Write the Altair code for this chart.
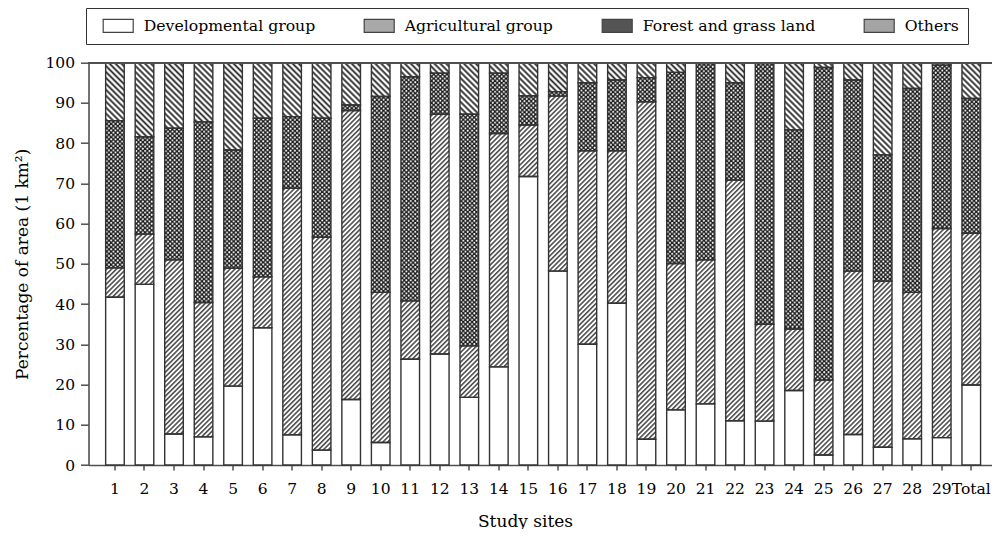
import base64
import altair as alt
import pandas as pd

# ---------------- data (percentages) ----------------
sites = [str(i) for i in range(1, 30)] + ["Total"]
categories = ["Developmental group", "Agricultural group", "Forest and grass land", "Others"]

developmental = [41.7, 44.9, 7.7, 7.0, 19.6, 34.1, 7.5, 3.7, 16.3, 5.6,
                 26.3, 27.6, 16.8, 24.4, 71.7, 48.2, 30.0, 40.2, 6.4, 13.7,
                 15.2, 11.0, 10.9, 18.5, 2.5, 7.6, 4.4, 6.5, 6.8, 19.9]
agricultural = [7.3, 12.5, 43.3, 33.4, 29.3, 12.7, 61.3, 52.9, 71.8, 37.3,
                14.5, 59.6, 12.8, 58.0, 12.8, 43.5, 48.1, 37.9, 83.9, 36.4,
                35.8, 59.8, 24.1, 15.3, 18.6, 40.6, 41.3, 36.4, 52.0, 37.7]
forest = [36.6, 24.2, 32.7, 44.9, 29.4, 39.4, 17.8, 29.6, 1.4, 48.7,
          55.7, 10.2, 57.6, 15.0, 7.3, 1.1, 16.9, 17.6, 6.0, 47.5,
          48.8, 24.2, 64.8, 49.5, 77.7, 47.5, 31.4, 50.7, 40.6, 33.5]
others = [14.4, 18.4, 16.3, 14.7, 21.7, 13.8, 13.4, 13.8, 10.5, 8.4,
          3.5, 2.6, 12.8, 2.6, 8.2, 7.2, 5.0, 4.3, 3.7, 2.4,
          0.2, 5.0, 0.2, 16.7, 1.2, 4.3, 22.9, 6.4, 0.6, 8.9]
y_ticks = list(range(0, 101, 10))

# ---------------- build stacked table ----------------
series = [developmental, agricultural, forest, others]
rows = []
for i, s in enumerate(sites):
    base = 0.0
    for cat, vals in zip(categories, series):
        rows.append({"site": s, "category": cat, "start": base, "end": base + vals[i]})
        base += vals[i]
df = pd.DataFrame(rows)

# ---------------- hatch patterns as tiled SVG images ----------------
def svg_uri(defs):
    svg = ('<svg xmlns="http://www.w3.org/2000/svg" width="100%" height="100%">'
           '<defs>' + defs + '</defs>'
           '<rect x="0" y="0" width="100%" height="100%" fill="url(#p)"/></svg>')
    return "data:image/svg+xml;base64," + base64.b64encode(svg.encode()).decode()

agri_uri = svg_uri(
    '<pattern id="p" width="3.4" height="3.4" patternUnits="userSpaceOnUse" patternTransform="rotate(45)">'
    '<rect width="3.4" height="3.4" fill="white"/>'
    '<rect x="1" y="0" width="1.3" height="3.4" fill="#262626"/></pattern>')
others_uri = svg_uri(
    '<pattern id="p" width="4.2" height="4.2" patternUnits="userSpaceOnUse" patternTransform="rotate(-45)">'
    '<rect width="4.2" height="4.2" fill="white"/>'
    '<rect x="1.2" y="0" width="1.8" height="4.2" fill="#262626"/></pattern>')
forest_uri = svg_uri(
    '<pattern id="p" width="4.4" height="4.4" patternUnits="userSpaceOnUse">'
    '<rect width="4.4" height="4.4" fill="#1a1a1a"/>'
    '<circle cx="1.1" cy="1.1" r="1.0" fill="white"/>'
    '<circle cx="3.3" cy="3.3" r="1.0" fill="white"/></pattern>')
pattern_of = {"Agricultural group": agri_uri,
              "Forest and grass land": forest_uri,
              "Others": others_uri}

FONT = "DejaVu Serif"
AX = "#505050"

x_enc = alt.X(
    "site:N",
    scale=alt.Scale(type="band", domain=sites, paddingInner=0.37, paddingOuter=0.484, align=0.6),
    axis=alt.Axis(title="Study sites", labelAngle=0, tickSize=5, labelPadding=11,
                  domainColor=AX, domainWidth=1.6, tickColor=AX, tickWidth=1.5,
                  labelFont=FONT, labelFontSize=15.5, labelColor="black",
                  titleFont=FONT, titleFontSize=17, titleFontWeight="normal", titleColor="black",
                  titleX=436.5, titleY=61, titleBaseline="alphabetic", grid=False),
)
y_enc = alt.Y(
    "start:Q",
    scale=alt.Scale(domain=[0, 100], nice=False),
    axis=alt.Axis(title="Percentage of area (1 km²)", values=y_ticks, tickSize=8, labelPadding=6,
                  domainColor=AX, domainWidth=1.6, tickColor=AX, tickWidth=1.5,
                  labelFont=FONT, labelFontSize=15.5, labelColor="black",
                  titleFont=FONT, titleFontSize=17, titleFontWeight="normal", titleColor="black",
                  titleX=-66.5, titleBaseline="middle", grid=False),
)
y2_enc = alt.Y2("end:Q")

# 30x13 px rectangle for a symbol of size 237 (sqrt = 15.4, scale 7.7)
legend_symbol = "M-1.95,-0.845H1.95V0.845H-1.95Z"

base = alt.Chart(df).mark_bar().encode(
    x=x_enc, y=y_enc, y2=y2_enc,
    fill=alt.Fill(
        "category:N",
        scale=alt.Scale(domain=categories, range=["#ffffff", "#a9a9a9", "#545454", "#a4a4a4"]),
        legend=alt.Legend(title=" ", titleOrient="left", titleFontSize=1, titlePadding=7.4,
                          orient="none", legendX=-2.5, legendY=-54.7,
                          direction="horizontal", columns=4, gridAlign="each",
                          symbolType=legend_symbol, symbolSize=237, symbolOffset=7.3,
                          symbolStrokeColor="#444444", symbolStrokeWidth=1.2,
                          labelFont=FONT, labelFontSize=15.7, labelColor="black",
                          labelOffset=17, labelLimit=400, columnPadding=46, padding=9,
                          strokeColor="#333333"),
    ),
)

pattern_layers = [
    alt.Chart(df).transform_filter(alt.datum.category == cat)
    .mark_image(url=uri, aspect=False)
    .encode(x=x_enc, y=y_enc, y2=y2_enc)
    for cat, uri in pattern_of.items()
]

outline = alt.Chart(df).mark_bar(fill="white", fillOpacity=0, stroke="#333333", strokeWidth=1.4).encode(
    x=x_enc, y=y_enc, y2=y2_enc
)

top_rule = alt.Chart(df).mark_rule(color=AX, strokeWidth=1.6).encode(y=alt.datum(100))

chart = alt.layer(base, *pattern_layers, outline, top_rule).properties(
    width=903.5,
    height=402.3,
    autosize=alt.AutoSizeParams(type="none"),
    padding={"left": 80.5, "top": 54.7, "right": 0, "bottom": 64},
    background="white",
).configure_view(stroke="transparent")

chart.save("out.html", embed_options={"renderer": "svg", "actions": False})
